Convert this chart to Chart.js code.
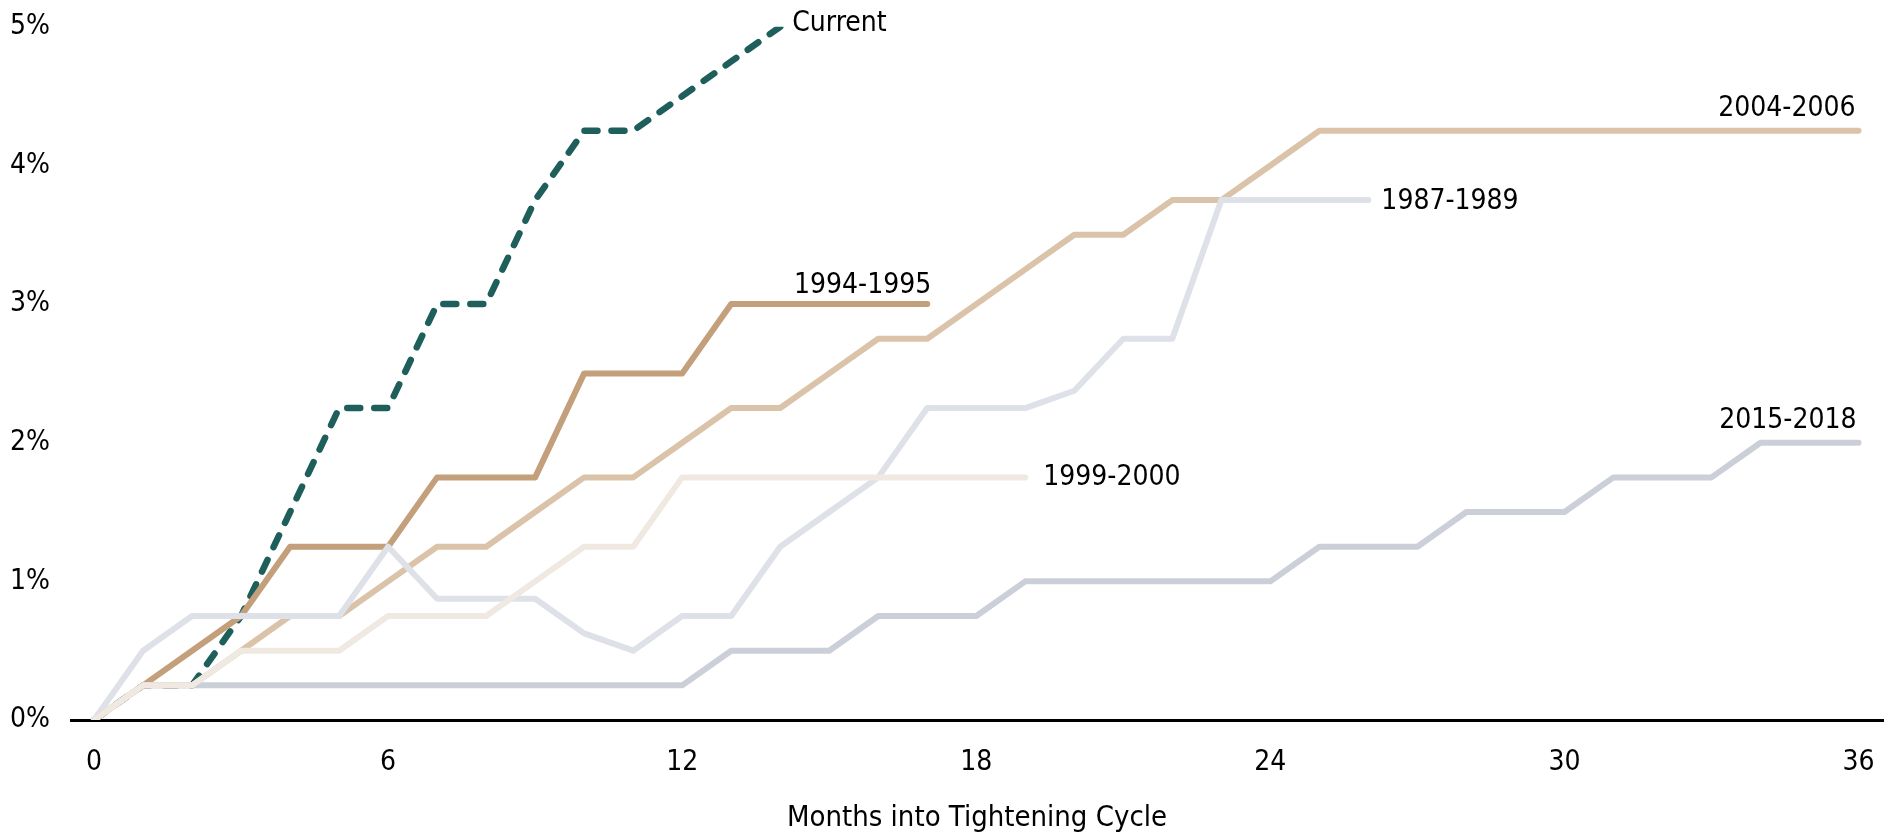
<!DOCTYPE html>
<html lang="en">
<head>
    <meta charset="UTF-8">
    <title>Months into Tightening Cycle</title>
    <script src="https://cdn.jsdelivr.net/npm/chart.js"></script>
    <style>
        html, body {
            margin: 0;
            padding: 0;
            background: #fff;
        }
        #wrap {
            width: 1894px;
            height: 836px;
        }
    </style>
</head>
<body>

    <div id="wrap"><canvas id="cycleChart"></canvas></div>

    <script>
        // months since first hike
        const months = [];
        for (let m = 0; m <= 36; m++) months.push(m);
        const xTicks = [0, 6, 12, 18, 24, 30, 36];
        const yTicks = [0, 1, 2, 3, 4, 5];

        // cumulative change in fed funds, percentage points
        const current = [0, 0.25, 0.25, 0.75, 1.5, 2.25, 2.25, 3.0, 3.0, 3.75, 4.25, 4.25, 4.5, 4.75, 5.0];
        const c1994 = [0, 0.25, 0.5, 0.75, 1.25, 1.25, 1.25, 1.75, 1.75, 1.75, 2.5, 2.5, 2.5, 3.0, 3.0, 3.0, 3.0, 3.0];
        const c2004 = [0, 0.25, 0.25, 0.5, 0.75, 0.75, 1.0, 1.25, 1.25, 1.5, 1.75, 1.75, 2.0, 2.25, 2.25, 2.5, 2.75, 2.75,
            3.0, 3.25, 3.5, 3.5, 3.75, 3.75, 4.0, 4.25, 4.25, 4.25, 4.25, 4.25, 4.25, 4.25, 4.25, 4.25, 4.25, 4.25, 4.25];
        const c1987 = [0, 0.5, 0.75, 0.75, 0.75, 0.75, 1.25, 0.875, 0.875, 0.875, 0.625, 0.5, 0.75, 0.75, 1.25, 1.5, 1.75,
            2.25, 2.25, 2.25, 2.375, 2.75, 2.75, 3.75, 3.75, 3.75, 3.75];
        const c1999 = [0, 0.25, 0.25, 0.5, 0.5, 0.5, 0.75, 0.75, 0.75, 1.0, 1.25, 1.25, 1.75, 1.75, 1.75, 1.75, 1.75, 1.75, 1.75, 1.75];
        const c2015 = [0, 0.25, 0.25, 0.25, 0.25, 0.25, 0.25, 0.25, 0.25, 0.25, 0.25, 0.25, 0.25, 0.5, 0.5, 0.5, 0.75, 0.75,
            0.75, 1.0, 1.0, 1.0, 1.0, 1.0, 1.0, 1.25, 1.25, 1.25, 1.5, 1.5, 1.5, 1.75, 1.75, 1.75, 2.0, 2.0, 2.0];

        const FONT = "'DejaVu Sans Condensed', 'DejaVu Sans', sans-serif";

        function pts(vals) {
            return vals.map((v, i) => ({ x: months[i], y: v }));
        }

        // where each series name sits relative to its last point
        const tags = {
            'Current':   { align: 'left',  dx: 12, dy: -3 },
            '1994-1995': { align: 'right', dx: 4,  dy: -18 },
            '2004-2006': { align: 'right', dx: -3, dy: -22 },
            '1987-1989': { align: 'left',  dx: 13, dy: 2 },
            '1999-2000': { align: 'left',  dx: 18, dy: 0 },
            '2015-2018': { align: 'right', dx: -2, dy: -22 }
        };

        const endLabels = {
            id: 'endLabels',
            afterDatasetsDraw(chart) {
                const ctx = chart.ctx;
                ctx.save();
                ctx.font = '28px ' + FONT;
                ctx.fillStyle = '#000';
                ctx.textBaseline = 'middle';
                chart.data.datasets.forEach((ds, i) => {
                    const meta = chart.getDatasetMeta(i);
                    const last = meta.data[meta.data.length - 1];
                    const t = tags[ds.label];
                    ctx.textAlign = t.align;
                    ctx.fillText(ds.label, last.x + t.dx, last.y + t.dy);
                });
                ctx.restore();
            }
        };

        const line = (label, vals, color, extra) => Object.assign({
            label: label,
            data: pts(vals),
            borderColor: color,
            borderWidth: 6,
            borderCapStyle: 'round',
            borderJoinStyle: 'round',
            pointRadius: 0,
            fill: false,
            tension: 0
        }, extra || {});

        // drawn bottom to top
        const datasets = [
            line('1999-2000', c1999, '#f0e9e1'),
            line('2015-2018', c2015, '#cbcfd8'),
            line('1987-1989', c1987, '#dee1e7'),
            line('2004-2006', c2004, '#dbc3aa'),
            line('1994-1995', c1994, '#c49f7b'),
            line('Current', current, '#1f5f5b', { borderDash: [13, 14], borderWidth: 6.5 })
        ];

        new Chart(document.getElementById('cycleChart'), {
            type: 'line',
            data: { datasets: datasets },
            plugins: [endLabels],
            options: {
                responsive: true,
                maintainAspectRatio: false,
                animation: false,
                layout: { padding: { top: 10, right: 11, left: 10, bottom: 0 } },
                plugins: {
                    legend: { display: false },
                    tooltip: { enabled: false }
                },
                scales: {
                    x: {
                        type: 'linear',
                        min: -0.47,
                        max: 36.5,
                        afterBuildTicks: s => { s.ticks = xTicks.map(v => ({ value: v })); },
                        afterFit: s => { s.height = 116; },
                        grid: { display: false },
                        border: { display: true, color: '#000', width: 3 },
                        ticks: {
                            font: { family: FONT, size: 28 },
                            color: '#000',
                            padding: 18,
                            maxRotation: 0
                        },
                        title: {
                            display: true,
                            text: 'Months into Tightening Cycle',
                            font: { family: FONT, size: 29 },
                            color: '#000',
                            padding: { top: 20, bottom: 0 }
                        }
                    },
                    y: {
                        min: 0,
                        max: 5,
                        afterBuildTicks: s => { s.ticks = yTicks.map(v => ({ value: v })); },
                        afterFit: s => { s.width = 61; },
                        grid: { display: false },
                        border: { display: false },
                        ticks: {
                            font: { family: FONT, size: 28 },
                            color: '#000',
                            crossAlign: 'far',
                            padding: 10,
                            callback: v => v + '%'
                        }
                    }
                }
            }
        });
    </script>

</body>
</html>
